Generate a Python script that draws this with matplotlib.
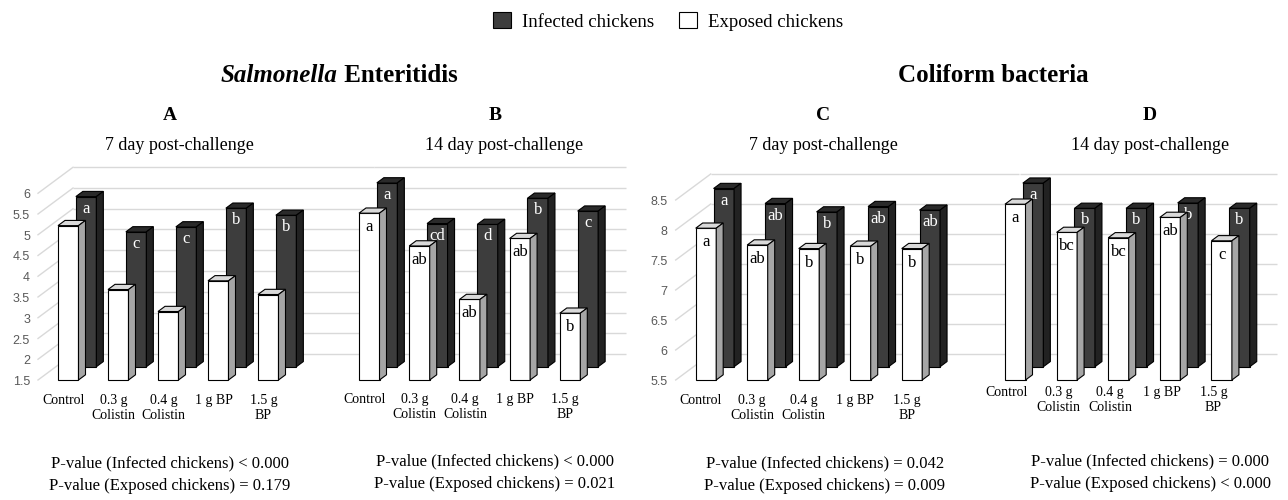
import matplotlib
matplotlib.use("Agg")
import matplotlib.pyplot as plt
from matplotlib.patches import Polygon, Patch

W, H = 1288, 500
SERIF = "Liberation Serif"
SANS = "Liberation Sans"

categories = ["Control", "0.3 g\nColistin", "0.4 g\nColistin", "1 g BP", "1.5 g\nBP"]

# Salmonella Enteritidis
se_7d_infected = [5.60, 4.75, 4.87, 5.32, 5.15]
se_7d_exposed = [5.22, 3.68, 3.15, 3.89, 3.56]
se_14d_infected = [5.93, 4.95, 4.93, 5.56, 5.25]
se_14d_exposed = [5.52, 4.73, 3.44, 4.91, 3.11]
# Coliform bacteria
cf_7d_infected = [8.47, 8.22, 8.08, 8.17, 8.11]
cf_7d_exposed = [8.03, 7.75, 7.69, 7.73, 7.69]
cf_14d_infected = [8.56, 8.14, 8.14, 8.23, 8.14]
cf_14d_exposed = [8.43, 7.96, 7.87, 8.21, 7.82]

# significance letters
se_7d_inf_letters = ["a", "c", "c", "b", "b"]
se_7d_exp_letters = ["", "", "", "", ""]
se_14d_inf_letters = ["a", "cd", "d", "b", "c"]
se_14d_exp_letters = ["a", "ab", "ab", "ab", "b"]
cf_7d_inf_letters = ["a", "ab", "b", "ab", "ab"]
cf_7d_exp_letters = ["a", "ab", "b", "b", "b"]
cf_14d_inf_letters = ["a", "b", "b", "b", "b"]
cf_14d_exp_letters = ["a", "bc", "bc", "ab", "c"]

se_ticks = [1.5, 2, 2.5, 3, 3.5, 4, 4.5, 5, 5.5, 6]
cf_ticks = [5.5, 6, 6.5, 7, 7.5, 8, 8.5]

p_values = [
    ["P-value (Infected chickens) < 0.000", "P-value (Exposed chickens) = 0.179"],
    ["P-value (Infected chickens) < 0.000", "P-value (Exposed chickens) = 0.021"],
    ["P-value (Infected chickens) = 0.042", "P-value (Exposed chickens) = 0.009"],
    ["P-value (Infected chickens) = 0.000", "P-value (Exposed chickens) < 0.000"],
]

DARK = {"front": "#3d3d3d", "top": "#2a2a2a", "side": "#222222"}
LIGHT = {"front": "#ffffff", "top": "#d9d9d9", "side": "#a6a6a6"}
GRID = "#d9d9d9"

FLOOR_PX = 380      # front floor line, pixels from top
DEPTH_X, DEPTH_Y = 35, 26   # offset of back wall, pixels
BAR_W = 20.5
BAR_DEPTH = 0.2
DARK_DEPTH = 0.51


def draw_bar(ax, x, value, floor, d0, colors, geo):
    dx, dy, w = geo["dx"], geo["dy"], geo["w"]
    sx, sy = BAR_DEPTH * dx, BAR_DEPTH * dy
    x0 = x + d0 * dx
    x1 = x0 + w
    b0 = floor + d0 * dy
    t0 = value + d0 * dy
    faces = [
        ([(x0, b0), (x1, b0), (x1, t0), (x0, t0)], colors["front"]),
        ([(x0, t0), (x1, t0), (x1 + sx, t0 + sy), (x0 + sx, t0 + sy)], colors["top"]),
        ([(x1, b0), (x1 + sx, b0 + sy), (x1 + sx, t0 + sy), (x1, t0)], colors["side"]),
    ]
    for pts, fc in faces:
        ax.add_patch(Polygon(pts, closed=True, facecolor=fc, edgecolor="black",
                             linewidth=0.8, zorder=geo["z"]))
    return (x0 + x1) / 2, t0


def draw_panel(fig, cfg):
    ppc, ppv = cfg["ppc"], cfg["ppv"]
    vfloor = cfg["ticks"][0]
    xmin, xmax = -1.4, 6.5
    bottom_px, top_px = FLOOR_PX + 10, 150
    ax = fig.add_axes([
        (cfg["x0"] + xmin * ppc) / W,
        (H - bottom_px) / H,
        (xmax - xmin) * ppc / W,
        (bottom_px - top_px) / H,
    ])
    ax.set_xlim(xmin, xmax)
    ax.set_ylim(vfloor - (bottom_px - FLOOR_PX) / ppv, vfloor + (FLOOR_PX - top_px) / ppv)
    ax.axis("off")

    dx, dy = DEPTH_X / ppc, DEPTH_Y / ppv
    front_left = -20 / ppc

    for v in cfg["ticks"]:
        ax.plot([front_left + dx, cfg["wall_end"]], [v + dy, v + dy],
                color=GRID, lw=1.0, zorder=1, solid_capstyle="butt")
        if cfg["show_axis"]:
            ax.plot([front_left, front_left + dx], [v, v + dy],
                    color=GRID, lw=1.0, zorder=1)
            ax.text(front_left - 8 / ppc, v - 2 / ppv, f"{v:g}", ha="right", va="center",
                    fontsize=9, family=SANS, color="#595959")

    geo_dark = {"dx": dx, "dy": dy, "w": BAR_W / ppc, "z": 2}
    geo_light = {"dx": dx, "dy": dy, "w": BAR_W / ppc, "z": 4}
    off = 12 / ppv
    for i in range(len(categories)):
        cx, top = draw_bar(ax, i, cfg["infected"][i], vfloor, DARK_DEPTH, DARK, geo_dark)
        ax.text(cx, top - off, cfg["inf_letters"][i], ha="center", va="center",
                fontsize=12, family=SERIF, color="white", zorder=3)
    for i in range(len(categories)):
        cx, top = draw_bar(ax, i, cfg["exposed"][i], vfloor, 0.0, LIGHT, geo_light)
        ax.text(cx, top - 14 / ppv, cfg["exp_letters"][i], ha="center", va="center",
                fontsize=12, family=SERIF, color="black", zorder=5)

    label_y = vfloor - (cfg["label_px"] - FLOOR_PX) / ppv
    for i, lab in enumerate(categories):
        ax.text(i + cfg["label_dx"] / ppc, label_y, lab, ha="center", va="top",
                fontsize=10, family=SERIF, linespacing=1.22, color="black")
    return ax


panels = [
    {"x0": 58, "ppc": 50, "ppv": 41.5, "ticks": se_ticks, "show_axis": True,
     "wall_end": 6.32, "label_dx": 5.5, "label_px": 394,
     "infected": se_7d_infected, "exposed": se_7d_exposed,
     "inf_letters": se_7d_inf_letters, "exp_letters": se_7d_exp_letters},
    {"x0": 359, "ppc": 50.2, "ppv": 41.5, "ticks": se_ticks, "show_axis": False,
     "wall_end": 5.32, "label_dx": 5.5, "label_px": 393,
     "infected": se_14d_infected, "exposed": se_14d_exposed,
     "inf_letters": se_14d_inf_letters, "exp_letters": se_14d_exp_letters},
    {"x0": 695.7, "ppc": 51.5, "ppv": 60, "ticks": cf_ticks, "show_axis": True,
     "wall_end": 6.28, "label_dx": 5, "label_px": 394,
     "infected": cf_7d_infected, "exposed": cf_7d_exposed,
     "inf_letters": cf_7d_inf_letters, "exp_letters": cf_7d_exp_letters},
    {"x0": 1005, "ppc": 51.6, "ppv": 60, "ticks": cf_ticks, "show_axis": False,
     "wall_end": 5.28, "label_dx": 2, "label_px": 386,
     "infected": cf_14d_infected, "exposed": cf_14d_exposed,
     "inf_letters": cf_14d_inf_letters, "exp_letters": cf_14d_exp_letters},
]

fig = plt.figure(figsize=(W / 100, H / 100), dpi=100)

for cfg in panels:
    draw_panel(fig, cfg)


def ftext(x, y, s, **kw):
    return fig.text(x / W, 1 - y / H, s, ha=kw.pop("ha", "center"), va=kw.pop("va", "center"),
                    family=SERIF, **kw)


# legend
handles = [Patch(facecolor=DARK["front"], edgecolor="black", linewidth=0.8),
           Patch(facecolor="white", edgecolor="black", linewidth=0.8)]
fig.legend(handles, ["Infected chickens", "Exposed chickens"], loc="center",
           bbox_to_anchor=(668 / W, 1 - 21.5 / H), ncol=2, frameon=False,
           prop={"family": SERIF, "size": 13.5}, handlelength=0.95, handleheight=0.95,
           handletextpad=0.6, columnspacing=1.3)

# group titles: italic genus + bold
renderer = fig.canvas.get_renderer()
t1 = ftext(0, 75, "Salmonella", fontsize=18, fontweight="bold", style="italic", ha="left")
t2 = ftext(0, 75, " Enteritidis", fontsize=18, fontweight="bold", ha="left")
w1 = t1.get_window_extent(renderer).width
w2 = t2.get_window_extent(renderer).width
start = 339 - (w1 + w2) / 2
t1.set_x(start / W)
t2.set_x((start + w1) / W)
ftext(993, 75, "Coliform bacteria", fontsize=18, fontweight="bold")

for letter, cx, sub in [("A", 170, "7 day post-challenge"), ("B", 495, "14 day post-challenge"),
                        ("C", 823, "7 day post-challenge"), ("D", 1150, "14 day post-challenge")]:
    ftext(cx, 115, letter, fontsize=14, fontweight="bold")
    ftext(cx + (9 if letter in "AB" else 0), 145, sub, fontsize=13)

for (l1, l2), cx, y1 in zip(p_values, [170, 495, 825, 1150], [463, 461, 463, 461]):
    ftext(cx, y1, l1, fontsize=12)
    ftext(cx, y1 + 23, l2, fontsize=12)

fig.savefig("out.png", dpi=100)
